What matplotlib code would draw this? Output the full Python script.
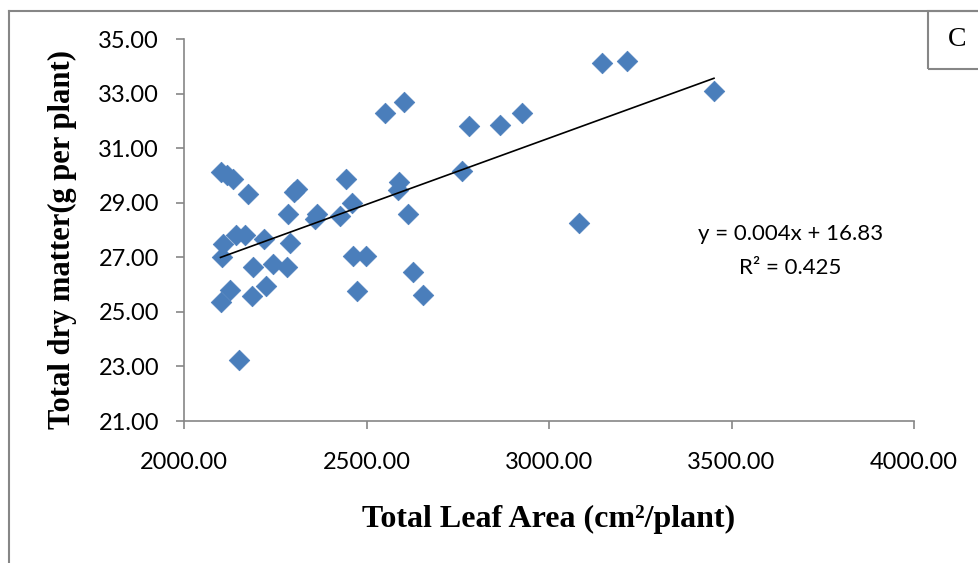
import numpy as np
import matplotlib.pyplot as plt
from matplotlib.patches import Rectangle
from matplotlib.lines import Line2D

# leaf area (cm2/plant) and total dry matter (g per plant)
leaf_area = [2100, 2117, 2133, 2175, 2300, 2309, 2443, 2589, 2587, 2762,
             2460, 2286, 2364, 2359, 2427, 2615, 2108, 2143, 2167, 2220,
             2290, 2103, 2190, 2243, 2281, 2462, 2498, 2628, 2126, 2100,
             2186, 2225, 2473, 2654, 2152, 2603, 2551, 2781, 2866, 2927,
             3083, 3144, 3213, 3452]
dry_matter = [30.12, 30.00, 29.88, 29.33, 29.39, 29.51, 29.88, 29.76, 29.48, 30.16,
              28.98, 28.57, 28.57, 28.41, 28.53, 28.59, 27.49, 27.80, 27.80, 27.68,
              27.53, 27.00, 26.66, 26.76, 26.66, 27.06, 27.03, 26.45, 25.80, 25.35,
              25.59, 25.96, 25.78, 25.63, 23.24, 32.70, 32.28, 31.81, 31.84, 32.27,
              28.26, 34.13, 34.19, 33.10]

x_ticks = [2000, 2500, 3000, 3500, 4000]
y_ticks = [21, 23, 25, 27, 29, 31, 33, 35]
eq_line = "y = 0.004x + 16.83"
r2_line = "R² = 0.425"

grey = "#868686"
tick_font = "Lato"
label_font = "Liberation Serif"

fig = plt.figure(figsize=(9.79, 5.63), dpi=100)

# outer chart frame (left and top edges visible) and the panel box "C"
fig.add_artist(Line2D([9 / 979, 9 / 979], [0, 1 - 11 / 563], color=grey, lw=1.5,
                      transform=fig.transFigure))
fig.add_artist(Line2D([9 / 979, 1], [1 - 11 / 563, 1 - 11 / 563], color=grey, lw=1.5,
                      transform=fig.transFigure))
fig.add_artist(Rectangle((928 / 979, 1 - 69 / 563), 60 / 979, 58 / 563,
                         transform=fig.transFigure, fill=False, edgecolor=grey, lw=1.5))
fig.text(957 / 979, 1 - 40 / 563, "C", fontsize=20, family=label_font,
         ha="center", va="center")

ax = fig.add_axes([184 / 979, 1 - 421 / 563, (914 - 184) / 979, (421 - 39) / 563])

ax.scatter(leaf_area, dry_matter, marker="D", s=110, color="#4A7EBB",
           edgecolors="#4A7EBB", linewidths=0.5, zorder=3)

# linear trend line
slope, intercept = np.polyfit(leaf_area, dry_matter, 1)
xs = np.array([min(leaf_area), max(leaf_area)])
ax.plot(xs, slope * xs + intercept, color="black", lw=1.2, zorder=4)

ax.text(3662, 27.87, eq_line, fontsize=16, family=tick_font,
        ha="center", va="center")
ax.text(3662, 26.62, r2_line, fontsize=16, family=tick_font,
        ha="center", va="center")

ax.set_xlim(2000, 4000)
ax.set_ylim(21, 35)
ax.set_xticks(x_ticks)
ax.set_yticks(y_ticks)
ax.set_xticklabels([f"{v:.2f}" for v in x_ticks], fontsize=17, family=tick_font)
ax.set_yticklabels([f"{v:.2f}" for v in y_ticks], fontsize=17, family=tick_font)
ax.tick_params(axis="both", direction="out", length=6, color=grey, width=1.2)
ax.tick_params(axis="x", pad=16)
ax.tick_params(axis="y", pad=12)

for side in ["top", "right"]:
    ax.spines[side].set_visible(False)
for side in ["left", "bottom"]:
    ax.spines[side].set_color(grey)
    ax.spines[side].set_linewidth(1.2)

ax.set_xlabel("Total Leaf Area (cm²/plant)", fontsize=23, fontweight="bold",
              family=label_font, labelpad=23)
ax.set_ylabel("Total dry matter(g per plant)", fontsize=22, fontweight="bold",
              family=label_font)
ax.yaxis.set_label_coords(-0.147, 0.474)

fig.savefig("out.png", dpi=100)
